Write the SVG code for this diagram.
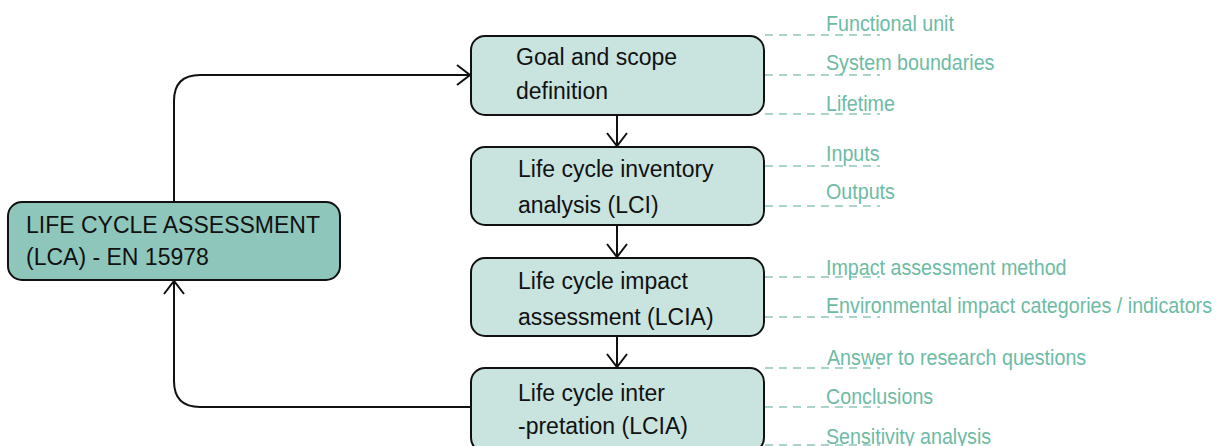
<svg xmlns="http://www.w3.org/2000/svg" width="1219" height="446" viewBox="0 0 1219 446">
  <style>
    .box { fill: #c9e3df; stroke: #111; stroke-width: 2; }
    .main { fill: #8fc6bb; stroke: #111; stroke-width: 2; }
    .lbl { font-family: "Liberation Sans", Arial, sans-serif; font-size: 23px; fill: #111; }
    .note { font-family: "Liberation Sans", Arial, sans-serif; font-size: 22px; fill: #6dbba5; }
    .conn { fill: none; stroke: #111; stroke-width: 2; }
    .dash { stroke: #8fc6bb; stroke-width: 1.5; stroke-dasharray: 8 6; }
  </style>
  <defs>
    <marker id="arrow" viewBox="0 0 16 22" refX="14" refY="11" markerWidth="16" markerHeight="22" markerUnits="userSpaceOnUse" orient="auto">
      <path d="M1,1 L14,11 L1,21" fill="none" stroke="#111" stroke-width="2"/>
    </marker>
  </defs>

  <rect width="1219" height="446" fill="#fff"/>

  <g id="connectors">
    <path class="conn" d="M174,202 V101 Q174,75 200,75 H470" marker-end="url(#arrow)"/>
    <path class="conn" d="M471,407 H200 Q174,407 174,381 V281" marker-end="url(#arrow)"/>
    <path class="conn" d="M617,115 V146" marker-end="url(#arrow)"/>
    <path class="conn" d="M617,225 V257" marker-end="url(#arrow)"/>
    <path class="conn" d="M617,336 V367" marker-end="url(#arrow)"/>
  </g>

  <g id="notes">
    <line class="dash" x1="765" y1="35" x2="880" y2="35"/>
    <line class="dash" x1="765" y1="75" x2="880" y2="75"/>
    <line class="dash" x1="765" y1="114" x2="880" y2="114"/>
    <line class="dash" x1="765" y1="166" x2="880" y2="166"/>
    <line class="dash" x1="765" y1="206" x2="880" y2="206"/>
    <line class="dash" x1="765" y1="277" x2="880" y2="277"/>
    <line class="dash" x1="765" y1="317" x2="880" y2="317"/>
    <line class="dash" x1="765" y1="368" x2="880" y2="368"/>
    <line class="dash" x1="765" y1="407" x2="880" y2="407"/>
    <line class="dash" x1="765" y1="445" x2="880" y2="445"/>
    <text class="note" transform="translate(826,31) scale(0.895,1)">Functional unit</text>
    <text class="note" transform="translate(826,70) scale(0.895,1)">System boundaries</text>
    <text class="note" transform="translate(826,111) scale(0.895,1)">Lifetime</text>
    <text class="note" transform="translate(826,161) scale(0.895,1)">Inputs</text>
    <text class="note" transform="translate(826,199) scale(0.895,1)">Outputs</text>
    <text class="note" transform="translate(826,275) scale(0.895,1)">Impact assessment method</text>
    <text class="note" transform="translate(826,313) scale(0.895,1)">Environmental impact categories / indicators</text>
    <text class="note" transform="translate(827,365) scale(0.895,1)">Answer to research questions</text>
    <text class="note" transform="translate(826,404) scale(0.895,1)">Conclusions</text>
    <text class="note" transform="translate(826,444) scale(0.895,1)">Sensitivity analysis</text>
  </g>

  <g id="lca">
    <rect class="main" x="8" y="202" width="332" height="78" rx="14"/>
    <text class="lbl" x="26" y="233">LIFE CYCLE ASSESSMENT</text>
    <text class="lbl" x="26" y="265">(LCA) - EN 15978</text>
  </g>

  <g id="goal-scope">
    <rect class="box" x="471" y="36" width="293" height="79" rx="14"/>
    <text class="lbl" x="516" y="65">Goal and scope</text>
    <text class="lbl" x="516" y="99">definition</text>
  </g>

  <g id="lci">
    <rect class="box" x="471" y="147" width="293" height="78" rx="14"/>
    <text class="lbl" x="518" y="177">Life cycle inventory</text>
    <text class="lbl" x="518" y="213">analysis (LCI)</text>
  </g>

  <g id="lcia">
    <rect class="box" x="471" y="258" width="293" height="78" rx="14"/>
    <text class="lbl" x="518" y="289">Life cycle impact</text>
    <text class="lbl" x="518" y="325">assessment (LCIA)</text>
  </g>

  <g id="interpretation">
    <rect class="box" x="471" y="368" width="293" height="84" rx="14"/>
    <text class="lbl" x="518" y="401">Life cycle inter</text>
    <text class="lbl" x="518" y="434">-pretation (LCIA)</text>
  </g>
</svg>
